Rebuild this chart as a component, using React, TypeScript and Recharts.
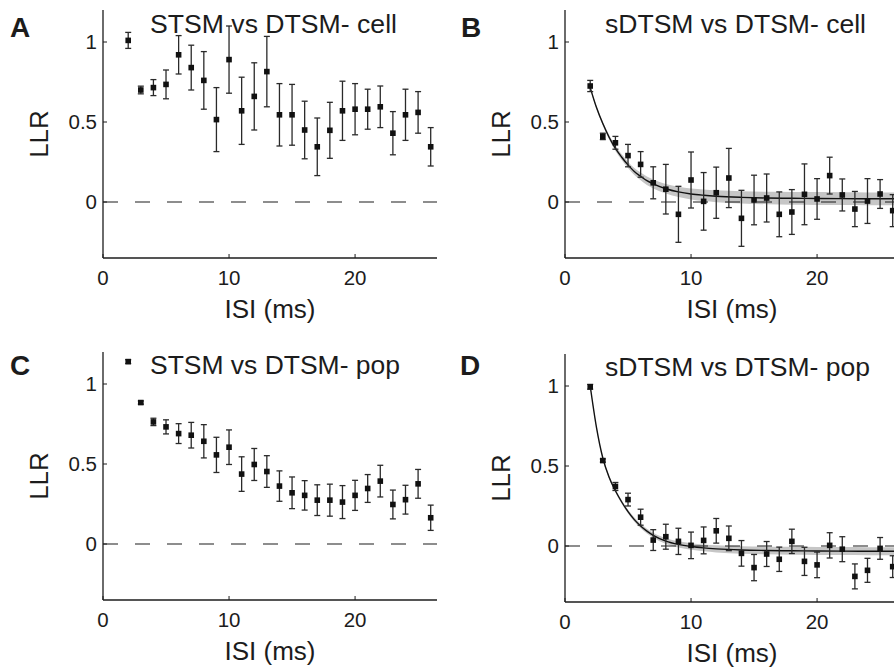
import React from 'react';
import {
  ComposedChart,
  Scatter,
  ErrorBar,
  Line,
  Area,
  XAxis,
  YAxis,
  ReferenceLine,
} from 'recharts';

// ---------- data ----------
const ISI = [2, 3, 4, 5, 6, 7, 8, 9, 10, 11, 12, 13, 14, 15, 16, 17, 18, 19, 20, 21, 22, 23, 24, 25, 26];

const A_LLR = [1.01, 0.70, 0.715, 0.735, 0.92, 0.84, 0.76, 0.515, 0.89, 0.57, 0.66, 0.815, 0.545, 0.545, 0.45, 0.345, 0.448, 0.57, 0.58, 0.58, 0.595, 0.43, 0.545, 0.56, 0.345];
const A_ERR = [0.05, 0.024, 0.05, 0.09, 0.12, 0.14, 0.18, 0.2, 0.21, 0.21, 0.21, 0.22, 0.195, 0.19, 0.18, 0.18, 0.175, 0.185, 0.16, 0.125, 0.13, 0.135, 0.16, 0.13, 0.12];

const B_LLR = [0.725, 0.41, 0.37, 0.29, 0.235, 0.12, 0.08, -0.077, 0.1375, 0.004, 0.058, 0.15, -0.102, 0.0125, 0.025, -0.077, -0.0625, 0.048, 0.019, 0.165, 0.044, -0.044, 0.006, 0.05, -0.054];
const B_ERR = [0.035, 0.02, 0.04, 0.07, 0.08, 0.1, 0.155, 0.175, 0.175, 0.18, 0.16, 0.185, 0.175, 0.155, 0.15, 0.14, 0.14, 0.19, 0.127, 0.115, 0.1, 0.11, 0.14, 0.09, 0.1];

const C_LLR = [1.14, 0.884, 0.763, 0.732, 0.69, 0.68, 0.642, 0.557, 0.605, 0.437, 0.497, 0.453, 0.362, 0.32, 0.304, 0.274, 0.274, 0.262, 0.304, 0.347, 0.393, 0.247, 0.277, 0.376, 0.164];
const C_ERR = [0.012, 0.01, 0.023, 0.044, 0.062, 0.08, 0.104, 0.11, 0.108, 0.108, 0.1, 0.099, 0.095, 0.099, 0.092, 0.096, 0.1, 0.103, 0.094, 0.087, 0.099, 0.09, 0.09, 0.09, 0.079];

const D_LLR = [0.995, 0.534, 0.372, 0.29, 0.18, 0.037, 0.058, 0.029, 0.004, 0.035, 0.095, 0.048, -0.046, -0.135, -0.05, -0.083, 0.029, -0.096, -0.118, 0.004, -0.02, -0.19, -0.152, -0.015, -0.129];
const D_ERR = [0.015, 0.01, 0.025, 0.04, 0.05, 0.065, 0.078, 0.082, 0.083, 0.084, 0.077, 0.077, 0.08, 0.082, 0.078, 0.076, 0.076, 0.088, 0.08, 0.079, 0.078, 0.078, 0.075, 0.068, 0.068];

// fitted exponential curves and their confidence band half-widths
const FIT_X = [2, 2.5, 3, 3.5, 4, 4.5, 5, 5.5, 6, 6.5, 7, 8, 9, 10, 11, 12, 14, 16, 18, 20, 22, 24, 26.5];
const B_FIT = [0.715, 0.59, 0.49, 0.405, 0.335, 0.28, 0.232, 0.19, 0.16, 0.133, 0.113, 0.083, 0.063, 0.05, 0.042, 0.036, 0.029, 0.025, 0.023, 0.022, 0.021, 0.02, 0.02];
const B_BAND = [0.008, 0.01, 0.012, 0.014, 0.016, 0.018, 0.02, 0.022, 0.024, 0.026, 0.028, 0.03, 0.032, 0.034, 0.036, 0.037, 0.038, 0.039, 0.04, 0.04, 0.04, 0.04, 0.04];
const D_FIT = [1.0, 0.74, 0.55, 0.43, 0.345, 0.275, 0.215, 0.165, 0.125, 0.093, 0.067, 0.031, 0.01, -0.003, -0.012, -0.018, -0.025, -0.028, -0.03, -0.031, -0.032, -0.033, -0.033];
const D_BAND = [0.006, 0.007, 0.008, 0.009, 0.01, 0.011, 0.012, 0.013, 0.014, 0.015, 0.016, 0.018, 0.019, 0.02, 0.021, 0.022, 0.023, 0.024, 0.025, 0.025, 0.025, 0.025, 0.025];

const X_TICKS = [0, 10, 20];
const Y_TICKS = [0, 0.5, 1];
const X_DOMAIN = [0, 26.5];
const Y_DOMAIN = [-0.35, 1.2];

const TITLES = ['STSM vs DTSM- cell', 'sDTSM vs DTSM- cell', 'STSM vs DTSM- pop', 'sDTSM vs DTSM- pop'];
const LETTERS = ['A', 'B', 'C', 'D'];

// ---------- styling ----------
const FONT = '"Liberation Sans", Arial, Helvetica, sans-serif';
const INK = '#1c1c1c';
const X_MARGIN = 12;
const Y_MARGIN = 6;

const points = (llr: number[], err: number[]) => ISI.map((x, i) => ({ x, y: llr[i], err: err[i] }));
const curve = (fit: number[]) => FIT_X.map((x, i) => ({ x, y: fit[i] }));
const band = (fit: number[], half: number[]) => FIT_X.map((x, i) => ({ x, band: [fit[i] - half[i], fit[i] + half[i]] }));

const XTick = (props: any) => {
  const { x, y, payload } = props;
  return (
    <g>
      <line x1={x} x2={x} y1={y - X_MARGIN} y2={y - X_MARGIN - 4} stroke={INK} strokeWidth={1} />
      <text x={x} y={y + 15} textAnchor="middle" fontSize={20.5} fontFamily={FONT} fill={INK}>
        {payload.value}
      </text>
    </g>
  );
};

const YTick = (props: any) => {
  const { x, y, payload } = props;
  return (
    <g>
      <line x1={x + Y_MARGIN} x2={x + Y_MARGIN + 4} y1={y} y2={y} stroke={INK} strokeWidth={1} />
      <text x={x} y={y + 7.3} textAnchor="end" fontSize={20.5} fontFamily={FONT} fill={INK}>
        {payload.value}
      </text>
    </g>
  );
};

const XLabel = (props: any) => {
  const vb = props.viewBox || {};
  return (
    <text x={vb.x + vb.width / 2} y={vb.y + 60} textAnchor="middle" fontSize={26} fontFamily={FONT} fill={INK}>
      ISI (ms)
    </text>
  );
};

const YLabel = (props: any) => {
  const vb = props.viewBox || {};
  const cx = vb.x + vb.width - 55;
  const cy = vb.y + vb.height / 2;
  return (
    <text x={cx} y={cy} transform={`rotate(-90, ${cx}, ${cy})`} textAnchor="middle" fontSize={26} fontFamily={FONT} fill={INK}>
      LLR
    </text>
  );
};

const Square = (props: any) => {
  const { cx, cy } = props;
  if (cx == null || cy == null) return null;
  return <rect x={cx - 2.8} y={cy - 2.8} width={5.6} height={5.6} fill="#111" />;
};

type PanelProps = {
  left: number;
  top: number;
  pts: { x: number; y: number; err: number }[];
  fit?: { x: number; y: number }[];
  bandData?: { x: number; band: number[] }[];
};

const Panel = ({ left, top, pts, fit, bandData }: PanelProps) => (
  <div style={{ position: 'absolute', left, top }}>
    <ComposedChart width={447} height={330} margin={{ top: 10, right: 10, left: 33, bottom: 0 }}>
      <XAxis
        type="number"
        dataKey="x"
        domain={X_DOMAIN}
        ticks={X_TICKS}
        allowDataOverflow
        height={72}
        tickSize={0}
        tickMargin={X_MARGIN}
        tickLine={false}
        tick={<XTick />}
        axisLine={{ stroke: INK, strokeWidth: 1.3 }}
        label={<XLabel />}
      />
      <YAxis
        type="number"
        dataKey="y"
        domain={Y_DOMAIN}
        ticks={Y_TICKS}
        allowDataOverflow
        width={70}
        tickSize={0}
        tickMargin={Y_MARGIN}
        tickLine={false}
        tick={<YTick />}
        axisLine={{ stroke: INK, strokeWidth: 1.3 }}
        label={<YLabel />}
      />
      {bandData && (
        <Area
          data={bandData}
          dataKey="band"
          type="monotone"
          stroke="none"
          fill="#c6c6c6"
          fillOpacity={1}
          isAnimationActive={false}
          activeDot={false}
        />
      )}
      <ReferenceLine y={0} stroke={INK} strokeWidth={1.2} strokeDasharray="15 17" />
      {fit && (
        <Line
          data={fit}
          dataKey="y"
          type="monotone"
          stroke="#111"
          strokeWidth={1.4}
          dot={false}
          activeDot={false}
          isAnimationActive={false}
        />
      )}
      <Scatter data={pts} dataKey="y" shape={<Square />} isAnimationActive={false}>
        <ErrorBar dataKey="err" direction="y" width={3} stroke="#2a2a2a" strokeWidth={1.3} />
      </Scatter>
    </ComposedChart>
  </div>
);

const TITLE_POS = [
  { x: 150, y: 32.5, w: 247 },
  { x: 605, y: 32.5, w: 261 },
  { x: 150, y: 373.5, w: 250 },
  { x: 605, y: 375.5, w: 265 },
];
const LETTER_POS = [
  { x: 10, y: 36.7 },
  { x: 461, y: 36.5 },
  { x: 10, y: 375 },
  { x: 460, y: 375 },
];

export default function App() {
  return (
    <div
      style={{
        position: 'absolute',
        left: 0,
        top: 0,
        width: 894,
        height: 668,
        overflow: 'hidden',
        background: '#fff',
        fontFamily: FONT,
      }}
    >
      <Panel left={0} top={0} pts={points(A_LLR, A_ERR)} />
      <Panel left={462} top={0} pts={points(B_LLR, B_ERR)} fit={curve(B_FIT)} bandData={band(B_FIT, B_BAND)} />
      <Panel left={0} top={342} pts={points(C_LLR, C_ERR)} />
      <Panel left={462} top={344} pts={points(D_LLR, D_ERR)} fit={curve(D_FIT)} bandData={band(D_FIT, D_BAND)} />
      <svg
        width={894}
        height={668}
        style={{ position: 'absolute', left: 0, top: 0, pointerEvents: 'none' }}
      >
        {TITLES.map((t, i) => (
          <text
            key={t}
            x={TITLE_POS[i].x}
            y={TITLE_POS[i].y}
            fontSize={25}
            fontFamily={FONT}
            fill={INK}
            textLength={TITLE_POS[i].w}
            lengthAdjust="spacingAndGlyphs"
          >
            {t}
          </text>
        ))}
        {LETTERS.map((l, i) => (
          <text key={l} x={LETTER_POS[i].x} y={LETTER_POS[i].y} fontSize={28} fontWeight="bold" fontFamily={FONT} fill={INK}>
            {l}
          </text>
        ))}
      </svg>
    </div>
  );
}
